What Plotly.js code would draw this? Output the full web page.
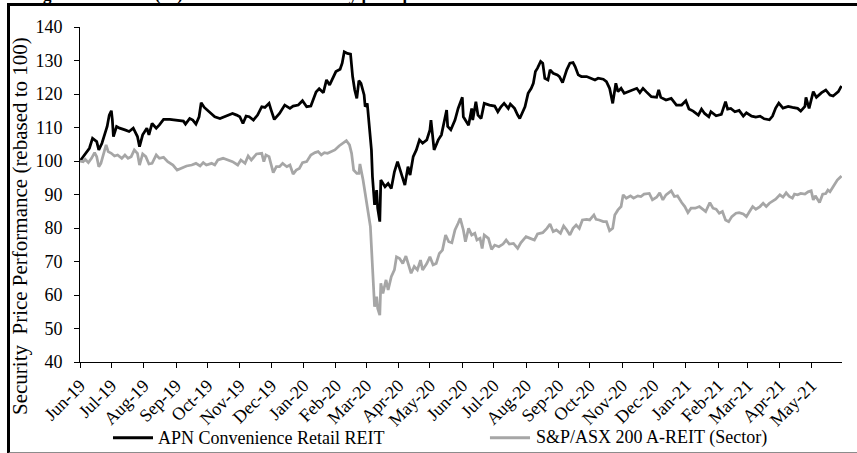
<!DOCTYPE html>
<html>
<head>
<meta charset="utf-8">
<script src="https://cdn.plot.ly/plotly-3.0.1.min.js"></script>
<style>
  html, body { margin: 0; padding: 0; background: #fff; overflow: hidden; }
  #wrap { position: relative; width: 857px; height: 453px; overflow: hidden; }
  #chart { position: absolute; left: 0; top: 0; width: 857px; height: 453px; }
  #cut { position: absolute; left: 28px; top: -14.5px; font: bold 17px "Liberation Serif", serif; line-height: 17px; white-space: nowrap; color: #000; }
  #frame { position: absolute; left: 7px; top: 3px; width: 900px; height: 446px;
           border-top: 3px solid #000; border-left: 3px solid #000; border-bottom: 2px solid #8c8c8c; pointer-events: none; }
</style>
</head>
<body>
<div id="wrap">
  <div id="chart"></div>
  <div id="cut">Figure 1: Return (%) vs benchmark: security price performance</div>
  <div id="frame"></div>
</div>
<script>
// Base date for the day offsets below
const baseDate = "2019-06-01";

// APN Convenience Retail REIT (rebased to 100): days since base date, and values
const apnDays = [0,3,6,9,12,16,18,21,24,26,28,30,31,32,35,38,43,47,51,55,57,60,64,66,69,73,76,80,86,92,99,101,105,108,111,114,116,119,122,126,129,134,138,142,146,150,153,156,159,162,166,170,174,177,181,183,186,191,196,201,204,209,213,217,221,226,229,233,236,239,242,245,249,251,253,256,259,261,263,265,267,269,272,273,275,277,279,280,282,284,285,287,288,292,295,298,301,304,308,311,314,316,319,322,325,328,332,335,336,339,343,346,351,352,355,359,362,366,367,370,372,375,376,379,381,384,387,392,397,400,403,406,410,412,416,419,421,426,429,432,434,436,438,441,443,445,448,450,453,457,459,462,466,469,472,474,477,480,485,489,493,496,501,504,507,510,513,515,518,521,525,529,533,536,539,542,547,552,554,556,561,566,571,576,580,583,587,592,595,598,602,604,609,614,618,620,623,627,631,635,638,643,647,651,655,660,663,666,669,673,678,682,687,690,694,695,698,702,705,710,714,718,721,726,729];
const apnValues = [100,101.3,102.8,103.8,106.8,105.8,103.3,105.3,108.3,110.3,113.7,115.0,112.2,107.3,110.3,109.8,109.3,108.8,109.8,107.3,104.3,107.8,109.8,107.8,111.2,109.8,110.8,112.4,112.4,112.2,111.9,111.0,112.7,112.2,111.0,113.2,117.4,116.0,115.2,114.0,113.2,112.7,113.2,113.7,114.2,113.7,113.2,111.2,113.4,113.2,112.2,113.7,116.2,116.0,117.2,115.2,112.4,114.2,116.7,115.7,116.4,116.7,118.0,116.2,116.4,120.6,121.6,120.4,124.2,122.7,124.7,126.7,127.4,129.2,132.6,132.1,131.9,125.2,121.2,118.7,124.0,123.2,119.7,116.2,117.2,109.3,103.3,95.3,86.9,91.3,85.9,81.9,94.3,92.3,93.3,91.8,96.8,99.8,95.8,92.8,98.3,95.8,101.3,103.3,106.3,105.3,106.3,109.3,112.2,103.3,106.3,107.8,115.2,110.3,109.3,112.2,115.7,119.0,113.2,111.7,110.7,115.7,112.2,117.7,113.7,112.7,117.2,116.7,116.4,114.7,116.2,117.2,115.7,117.0,115.7,113.7,112.7,116.2,120.2,121.7,123.2,126.7,127.7,129.7,129.2,124.7,124.2,127.2,126.2,125.7,125.2,123.4,127.2,129.2,129.4,128.2,125.7,125.2,125.2,124.7,124.2,124.7,124.4,123.7,121.7,117.2,123.2,120.7,121.7,120.2,120.7,121.2,121.7,120.4,121.7,120.7,119.2,119.0,121.2,119.0,118.2,118.7,116.7,116.7,118.0,115.5,114.9,113.7,115.5,114.2,113.2,114.7,113.5,113.9,117.7,115.5,115.7,114.7,115.1,113.4,114.4,113.4,113.1,113.4,112.6,112.3,113.4,115.8,117.3,115.8,116.3,116.0,115.7,114.9,116.3,119.0,115.7,120.7,119.0,120.4,121.2,119.7,119.4,120.7,122.4];

// S&P/ASX 200 A-REIT (Sector) (rebased to 100)
const sectorDays = [0,3,5,8,11,14,16,18,20,23,25,27,30,33,36,40,43,46,49,52,55,57,60,63,66,69,73,76,80,84,89,93,97,102,107,111,115,118,121,126,129,132,137,142,146,151,154,158,161,164,169,174,176,178,181,185,188,191,194,198,201,204,207,210,213,217,221,225,228,231,234,237,241,244,248,252,255,258,260,262,265,267,268,271,273,276,278,279,280,282,284,285,287,288,290,293,295,298,301,303,306,309,312,315,317,320,323,326,328,332,335,338,341,344,347,350,353,356,359,362,364,367,369,372,375,378,380,383,385,387,391,394,397,401,405,408,411,415,419,422,427,431,435,438,443,447,450,453,456,460,463,466,469,472,475,478,481,485,488,492,494,497,501,504,507,510,512,515,518,520,523,527,530,534,537,540,545,548,552,555,558,561,566,569,572,576,579,582,585,589,593,597,599,603,606,609,612,615,618,621,624,628,631,635,638,641,644,647,651,654,657,660,663,666,670,673,676,679,682,684,687,690,694,697,700,702,704,708,711,714,716,718,721,725,729];
const sectorValues = [100,99.8,100.5,99.5,100.8,102.5,101.3,98.3,99.3,102.8,104.8,102.8,102.3,101.5,101.8,100.8,101.8,100.8,101.3,103.3,102.3,98.8,102.1,101.3,99.1,99.3,101.8,100.8,101.1,99.8,98.8,97.3,97.8,98.5,98.8,99.3,98.5,99.5,98.8,99.3,98.8,100.3,100.8,100.3,99.8,98.8,100.3,99.3,101.5,100.3,102.1,102.3,99.8,101.8,101.3,96.5,98.3,98.3,99.3,98.3,98.8,96.1,97.3,97.8,99.5,99.8,101.8,102.5,102.8,101.8,102.5,102.3,102.8,103.3,104.5,105.3,106.1,104.8,102.3,97.3,96.3,96.3,99.1,94.3,90.8,84.4,80.4,74.4,65.5,56.5,59.5,56.0,54.0,63.5,60.5,64.5,61.5,65.5,67.5,71.4,70.9,69.4,71.6,68.5,66.5,68.5,67.5,70.4,67.5,69.4,71.4,69.0,69.4,72.4,73.4,77.9,75.9,75.6,79.4,81.4,82.9,79.4,75.9,79.9,77.9,78.4,76.4,76.9,73.9,77.9,76.9,73.6,74.9,74.4,75.2,76.4,75.2,75.4,73.9,75.6,77.4,76.9,76.4,78.2,78.6,79.9,81.2,78.9,79.4,78.4,80.6,79.4,77.9,79.9,80.9,79.9,82.4,82.6,82.4,83.9,82.6,82.4,81.9,81.9,79.2,79.9,83.9,85.4,86.4,89.9,88.9,89.6,88.9,89.6,89.4,90.1,90.3,88.4,89.2,90.5,88.4,89.9,91.1,89.4,89.6,87.6,86.4,84.6,85.9,85.9,86.4,85.4,84.9,87.6,85.9,85.6,84.4,84.9,82.4,81.9,83.4,84.4,84.6,84.2,83.4,84.9,86.4,85.6,86.4,87.4,86.4,87.4,87.9,88.6,89.9,89.2,90.5,89.4,88.9,90.1,89.9,90.3,90.1,90.8,91.1,88.4,89.6,87.6,90.1,90.3,91.3,90.8,92.3,94.3,95.5];

const seriesNames = ["APN Convenience Retail REIT", "S&P/ASX 200 A-REIT (Sector)"];
const seriesColors = ["#000000", "#a6a6a6"];
const yTitle = "Security\u00a0 Price Performance (rebased to 100)";

function toDates(days) {
  const t0 = Date.parse(baseDate + "T00:00:00Z");
  return days.map(d => new Date(t0 + d * 86400000).toISOString().slice(0, 10));
}

const serif = "'Liberation Serif', 'Times New Roman', serif";

const traces = [
  { type: "scatter", mode: "lines", name: seriesNames[0], x: toDates(apnDays), y: apnValues,
    line: { color: seriesColors[0], width: 2.75 } },
  { type: "scatter", mode: "lines", name: seriesNames[1], x: toDates(sectorDays), y: sectorValues,
    line: { color: seriesColors[1], width: 2.75 } }
];

// Legend drawn below the axis (paper coordinates)
const legendY = -0.226;
const legendItems = [
  { x0: 0.0433, x1: 0.0958, tx: 0.101 },
  { x0: 0.538, x1: 0.5906, tx: 0.597 }
];
const legendShapes = legendItems.map((it, i) => ({
  type: "line", xref: "paper", yref: "paper", x0: it.x0, x1: it.x1, y0: legendY, y1: legendY,
  line: { color: seriesColors[i], width: 3 }
}));
const legendTexts = legendItems.map((it, i) => ({
  text: seriesNames[i], xref: "paper", yref: "paper", x: it.tx, y: legendY,
  xanchor: "left", yanchor: "middle", showarrow: false, borderpad: 0,
  font: { family: serif, size: 18, color: "#000" }
}));

const layout = {
  width: 857, height: 453,
  margin: { l: 80, r: 15, t: 27, b: 91, pad: 0 },
  paper_bgcolor: "#ffffff", plot_bgcolor: "#ffffff",
  font: { family: serif, size: 18, color: "#000" },
  showlegend: false,
  xaxis: {
    type: "date", range: ["2019-06-01", "2021-05-30 12:00"], autorange: false,
    tick0: "2019-06-01", dtick: "M1", tickformat: "%b-%y", tickangle: -45,
    ticks: "outside", ticklen: 5, tickcolor: "#000", tickwidth: 1,
    showline: true, linecolor: "#000", linewidth: 1, showgrid: false, zeroline: false,
    tickfont: { family: serif, size: 18, color: "#000" }, automargin: false
  },
  yaxis: {
    range: [40, 140], autorange: false, dtick: 10, tick0: 40,
    ticks: "outside", ticklen: 5, tickcolor: "#000", tickwidth: 1, ticklabelstandoff: 8,
    showline: true, linecolor: "#000", linewidth: 1, showgrid: false, zeroline: false,
    tickfont: { family: serif, size: 18, color: "#000" }, automargin: false
  },
  shapes: legendShapes,
  annotations: [
    { text: yTitle, xref: "paper", yref: "paper", x: -0.0787, y: 0.406, xanchor: "center", yanchor: "middle",
      textangle: -90, showarrow: false, font: { family: serif, size: 21, color: "#000" } }
  ].concat(legendTexts)
};

Plotly.newPlot("chart", traces, layout, { staticPlot: true, displayModeBar: false });
</script>
</body>
</html>
